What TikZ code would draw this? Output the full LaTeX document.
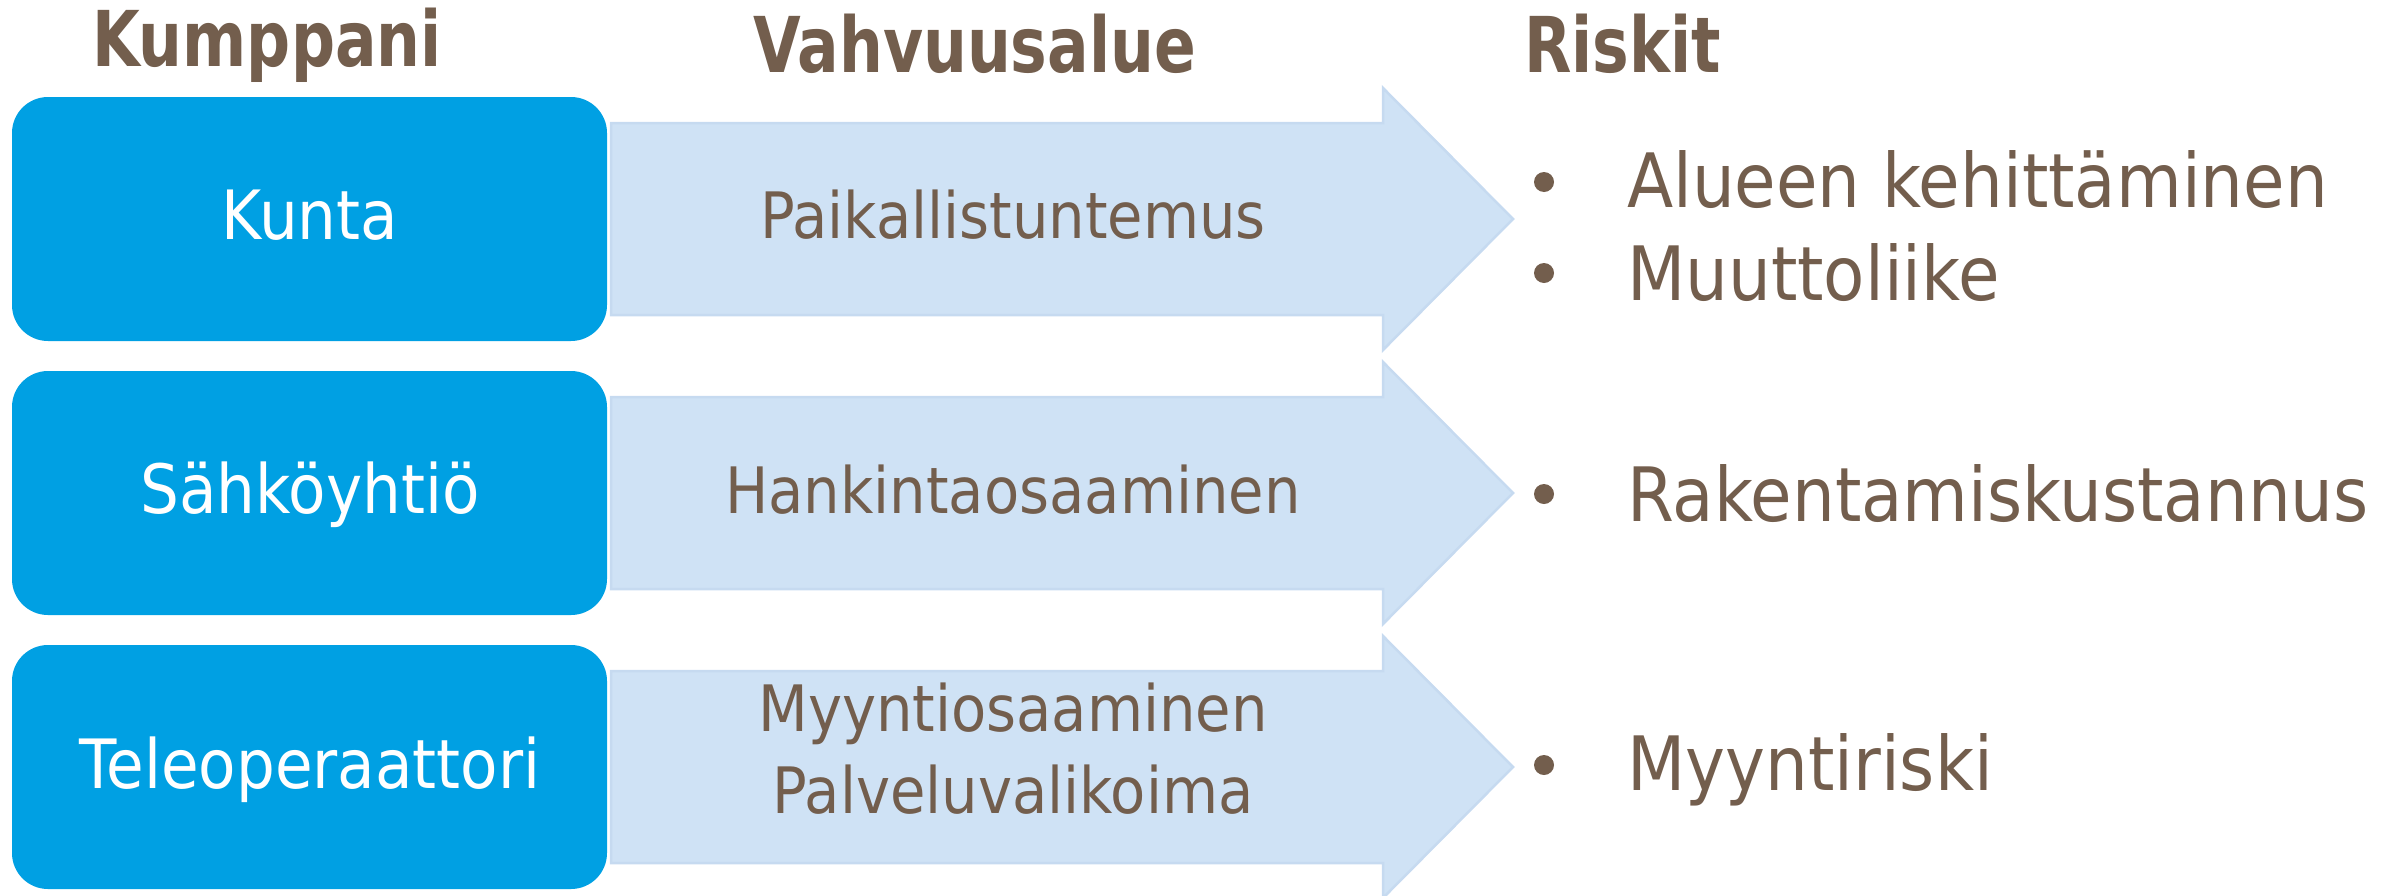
\documentclass[tikz,border=0pt]{standalone}
\usepackage{fontspec}
\newfontfamily\regfont[FakeStretch=0.9]{DejaVu Sans}
\newfontfamily\headfont[FakeStretch=0.8]{DejaVu Sans Bold}
\definecolor{txtbrown}{RGB}{115,94,77}
\definecolor{boxblue}{RGB}{0,160,227}
\definecolor{arrfill}{RGB}{207,226,245}
\definecolor{arrline}{RGB}{198,218,240}
\tikzset{
  headtxt/.style={inner sep=0pt, anchor=base west, text=txtbrown, font=\headfont\fontsize{77}{90}\selectfont},
  boxtxt/.style={inner sep=0pt, anchor=base, text=white, font=\regfont\fontsize{68}{80}\selectfont},
  midtxt/.style={inner sep=0pt, anchor=base, text=txtbrown, font=\regfont\fontsize{64}{76}\selectfont},
  risktxt/.style={inner sep=0pt, anchor=base west, text=txtbrown, font=\regfont\fontsize{75}{88}\selectfont},
  partnerbox/.style={fill=boxblue, rounded corners=36pt},
  bigarrow/.style={fill=arrfill, draw=arrline, line width=2.5pt, line join=miter},
  bulletdot/.style={fill=txtbrown}
}
\begin{document}
\begin{tikzpicture}[x=1pt,y=-1pt]
\useasboundingbox (0,0) rectangle (2397,895);
% arrows
\foreach \c/\n in {219/1,493/2,767/3}{
  \draw[bigarrow] (611,\c-96) -- (1383,\c-96) -- (1383,\c-131) -- (1513,\c) -- (1383,\c+131) -- (1383,\c+96) -- (611,\c+96) -- cycle;
  \fill[partnerbox] (12,\c-122) rectangle (607,\c+122);
  \coordinate (box\n) at (310,\c);
}
% headings
\node[headtxt] (hk) at (92,66) {Kumppani};
\node[headtxt] (hv) at (753,72) {Vahvuusalue};
\node[headtxt] (hr) at (1524,72) {Riskit};
% partner texts
\node[boxtxt] (p1) at (310,239) {Kunta};
\node[boxtxt] (p2) at (310,513) {Sähköyhtiö};
\node[boxtxt] (p3) at (310,788) {Teleoperaattori};
% strengths
\node[midtxt] (s1) at (1013,238) {Paikallistuntemus};
\node[midtxt] (s2) at (1013,513) {Hankintaosaaminen};
\node[midtxt] (s3a) at (1013,731) {Myyntiosaaminen};
\node[midtxt] (s3b) at (1013,813) {Palveluvalikoima};
% risks
\fill[bulletdot] (1544,182) circle (10);
\fill[bulletdot] (1544,273) circle (10);
\fill[bulletdot] (1544,494) circle (10);
\fill[bulletdot] (1544,765) circle (10);
\node[risktxt] (r1a) at (1627,207) {Alueen kehittäminen};
\node[risktxt] (r1b) at (1627,300) {Muuttoliike};
\node[risktxt] (r2) at (1627,521) {Rakentamiskustannus};
\node[risktxt] (r3) at (1627,790) {Myyntiriski};
\end{tikzpicture}
\end{document}
